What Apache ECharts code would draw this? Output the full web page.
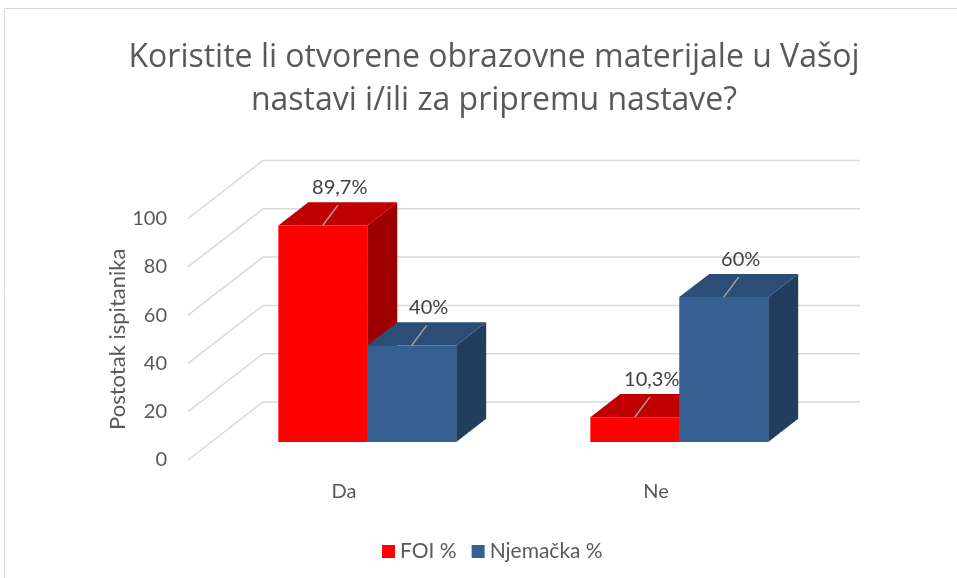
<!DOCTYPE html>
<html>
<head>
<meta charset="utf-8">
<script src="https://cdn.jsdelivr.net/npm/echarts@6/dist/echarts.min.js"></script>
<style>
  html, body { margin: 0; padding: 0; background: #fff; }
  #chart { width: 957px; height: 578px; }
</style>
</head>
<body>
<div id="chart"></div>
<script>
const categories = ['Da', 'Ne'];
const seriesNames = ['FOI %', 'Njemačka %'];
const foiValues = [89.7, 10.3];
const njemackaValues = [40, 60];
const yTicks = [0, 20, 40, 60, 80, 100];

// 3D look: depth vector of the floor and where the bars sit in it
const DEPTH = [75, -58];
const Z_FRONT = 0.31;
const Z_BACK = 0.71;
const WALL_RIGHT = 860;
const BAR_W = 0.285;
const TEXT = '#595959';
const FONT = 'Lato, "Noto Sans", sans-serif';

const palette = [
  { front: '#ff0000', top: '#c00000', side: '#9e0000' },
  { front: '#366092', top: '#2c4d75', side: '#223d5e' }
];

function fmt(v) {
  return String(v).replace('.', ',') + '%';
}

// back wall + side wall gridlines
function gridRenderer(params, api) {
  const y = api.coord([0, api.value(1)])[1];
  const left = params.coordSys.x;
  return {
    type: 'polyline',
    shape: {
      points: [[left, y], [left + DEPTH[0], y + DEPTH[1]], [WALL_RIGHT, y + DEPTH[1]]]
    },
    style: { stroke: '#d9d9d9', lineWidth: 1.5, fill: null }
  };
}

function barRenderer(slot) {
  const c = palette[slot];
  return function (params, api) {
    const cat = api.value(0);
    const val = api.value(1);
    const base = api.coord([cat, 0]);
    const top = api.coord([cat, val]);
    const w = api.size([1, 0])[0] * BAR_W;
    const fx = DEPTH[0] * Z_FRONT, fy = DEPTH[1] * Z_FRONT;
    const bx = DEPTH[0] * (Z_BACK - Z_FRONT), by = DEPTH[1] * (Z_BACK - Z_FRONT);
    const x0 = base[0] + fx + (slot === 0 ? -w : 0);
    const x1 = x0 + w;
    const y0 = base[1] + fy;
    const y1 = top[1] + fy;
    const cx = (x0 + x1) / 2;
    return {
      type: 'group',
      children: [
        {
          type: 'polygon',
          shape: { points: [[x1, y0], [x1 + bx, y0 + by], [x1 + bx, y1 + by], [x1, y1]] },
          style: { fill: c.side }
        },
        {
          type: 'polygon',
          shape: { points: [[x0, y1], [x0 + bx, y1 + by], [x1 + bx, y1 + by], [x1, y1]] },
          style: { fill: c.top }
        },
        {
          type: 'rect',
          shape: { x: x0, y: y1, width: w, height: y0 - y1 },
          style: { fill: c.front }
        },
        {
          type: 'line',
          shape: { x1: cx, y1: y1, x2: cx + 15, y2: y1 - 20 },
          style: { stroke: '#a6a6a6', lineWidth: 1.5 }
        },
        {
          type: 'text',
          x: cx + 17,
          y: y1 - 38,
          style: {
            text: fmt(val),
            fill: '#404040',
            font: '20px ' + FONT,
            align: 'center',
            verticalAlign: 'middle'
          }
        }
      ]
    };
  };
}

const chart = echarts.init(document.getElementById('chart'));

chart.setOption({
  animation: false,
  backgroundColor: '#fff',
  textStyle: { fontFamily: FONT },
  title: {
    text: 'Koristite li otvorene obrazovne materijale u Vašoj\nnastavi i/ili za pripremu nastave?',
    left: 489,
    top: 31,
    textAlign: 'center',
    textStyle: { fontSize: 32, fontWeight: 'normal', color: TEXT, lineHeight: 43, fontFamily: '"Open Sans", sans-serif' }
  },
  legend: {
    data: seriesNames,
    left: 377,
    top: 536,
    itemWidth: 13,
    itemHeight: 13,
    itemGap: 15,
    icon: 'rect',
    textStyle: { fontSize: 21, color: TEXT, fontFamily: FONT }
  },
  graphic: [{
    type: 'rect',
    shape: { x: 4.5, y: 8.5, width: 1000, height: 620 },
    style: { fill: null, stroke: '#d9d9d9', lineWidth: 1 },
    silent: true
  }],
  grid: { left: 188, width: 624, top: 218.5, bottom: 118, containLabel: false, outerBoundsMode: 'none' },
  xAxis: {
    type: 'category',
    data: categories,
    axisLine: { show: false },
    axisTick: { show: false },
    splitLine: { show: false },
    axisLabel: { fontSize: 20, color: TEXT, margin: 22 }
  },
  yAxis: {
    type: 'value',
    min: 0,
    max: 100,
    interval: 20,
    axisLine: { show: false },
    axisTick: { show: false },
    splitLine: { show: false },
    axisLabel: { fontSize: 20, color: TEXT, margin: 21 },
    name: 'Postotak ispitanika',
    nameLocation: 'middle',
    nameRotate: 90,
    nameGap: 59,
    nameMoveOverlap: false,
    nameTextStyle: { fontSize: 22, color: TEXT }
  },
  series: [
    {
      type: 'custom',
      silent: true,
      clip: false,
      z: 1,
      renderItem: gridRenderer,
      data: yTicks.map(v => [0, v])
    },
    {
      name: seriesNames[0],
      type: 'custom',
      clip: false,
      z: 2,
      itemStyle: { color: palette[0].front },
      renderItem: barRenderer(0),
      data: categories.map((c, i) => [i, foiValues[i]])
    },
    {
      name: seriesNames[1],
      type: 'custom',
      clip: false,
      z: 3,
      itemStyle: { color: palette[1].front },
      renderItem: barRenderer(1),
      data: categories.map((c, i) => [i, njemackaValues[i]])
    }
  ]
});
</script>
</body>
</html>
